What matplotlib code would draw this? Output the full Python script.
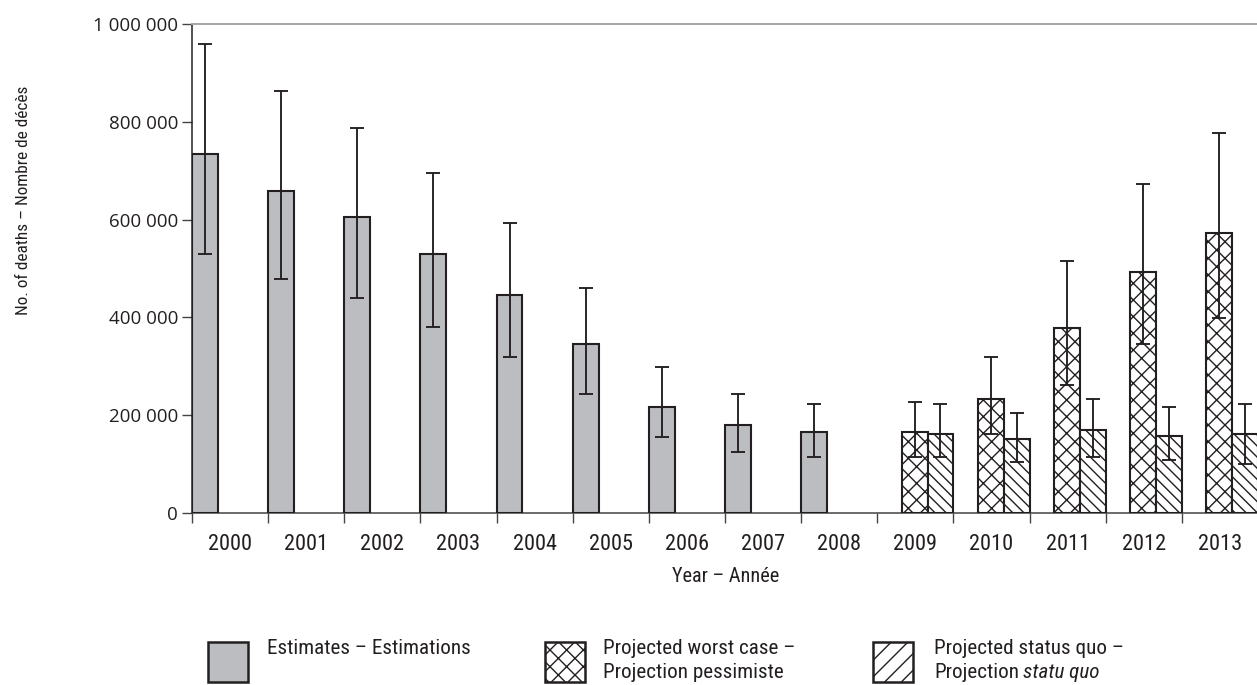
import matplotlib
matplotlib.use("Agg")
import matplotlib.pyplot as plt
import matplotlib.font_manager as fm
from matplotlib.patches import Rectangle
from matplotlib.textpath import TextToPath

# ---------------- data ----------------
years = ["2000", "2001", "2002", "2003", "2004", "2005", "2006",
         "2007", "2008", "2009", "2010", "2011", "2012", "2013"]
est_years = ["2000", "2001", "2002", "2003", "2004", "2005", "2006", "2007", "2008"]
est_vals = [734000, 658000, 605000, 529000, 446000, 345000, 216000, 180000, 166000]
est_low = [529000, 478000, 439000, 381000, 320000, 244000, 155000, 125000, 115000]
est_high = [960000, 864000, 788000, 695000, 594000, 461000, 299000, 244000, 223000]

proj_years = ["2009", "2010", "2011", "2012", "2013"]
worst_vals = [166000, 234000, 378000, 493000, 572000]
worst_low = [115000, 162000, 262000, 346000, 399000]
worst_high = [227000, 320000, 515000, 673000, 777000]
sq_vals = [162000, 151000, 169000, 158000, 162000]
sq_low = [115000, 104000, 115000, 108000, 101000]
sq_high = [223000, 204000, 234000, 216000, 223000]

yticks = [0, 200000, 400000, 600000, 800000, 1000000]
ytick_labels = ["0", "200 000", "400 000", "600 000", "800 000", "1 000 000"]

# ---------------- fonts ----------------
W, H = 1257, 685
DARK = "#231f20"
GREY = "#bcbdc0"

entries = fm.fontManager.ttflist
names = {e.name for e in entries}
narrow_props = None
for cand in ["Liberation Sans Narrow", "Roboto Condensed", "DejaVu Sans Condensed",
             "Noto Sans Condensed", "Open Sans Condensed"]:
    if cand in names:
        narrow_props = dict(family=[cand, "DejaVu Sans"])
        break
if narrow_props is None:
    for e in entries:
        if str(e.stretch) in ("condensed", "semi-condensed", "extra-condensed") and \
                e.name in ("DejaVu Sans", "Noto Sans", "Roboto", "Open Sans", "Lato", "Inter"):
            if e.style == "normal" and e.weight in (400, "normal", "regular"):
                narrow_props = dict(family=[e.name, "DejaVu Sans"], stretch=e.stretch)
                break
if narrow_props is None:
    base = "Roboto" if "Roboto" in names else "DejaVu Sans"
    narrow_props = dict(family=[base, "DejaVu Sans"])

_t2p = TextToPath()


def fit_size(text, target_px, ref=16.0, boost=1.05):
    """font size (pt) so that `text` is about target_px wide at 100 dpi"""
    fp = fm.FontProperties(size=ref, **narrow_props)
    w, _, _ = _t2p.get_text_width_height_descent(text, fp, ismath=False)
    return boost * ref * target_px / (w * 100 / 72)


tick_fs = fit_size("2000", 42)
xlab_fs = fit_size("Year – Année", 102)
ylab_fs = fit_size("No. of deaths – Nombre de décès", 204, boost=1.12)
leg_fs = fit_size("Projected worst case –", 183)

plt.rcParams["hatch.linewidth"] = 1.0
plt.rcParams["font.family"] = ["Open Sans", "DejaVu Sans"]

fig = plt.figure(figsize=(W / 100, H / 100), dpi=100)
ax = fig.add_axes([192 / W, (H - 513) / H, (1258 - 192) / W, 489 / H])

slot = {y: i for i, y in enumerate(years)}
bw = 0.34
ekw = dict(fmt="none", ecolor=DARK, elinewidth=1.35, capsize=4.7, capthick=1.35, zorder=4)

# estimates
ex = [slot[y] for y in est_years]
ax.bar(ex, est_vals, width=bw, align="edge", color=GREY, edgecolor=DARK,
       linewidth=1.5, zorder=3)
ax.errorbar([x + bw / 2 for x in ex], est_vals,
            yerr=[[v - l for v, l in zip(est_vals, est_low)],
                  [h - v for v, h in zip(est_vals, est_high)]], **ekw)

# projections
px = [slot[y] for y in proj_years]
wx = [x + 0.32 for x in px]
sx = [x + 0.32 + bw for x in px]
ax.bar(wx, worst_vals, width=bw, align="edge", color="white", edgecolor=DARK,
       hatch="xx", linewidth=1.5, zorder=3)
ax.bar(sx, sq_vals, width=bw, align="edge", color="white", edgecolor=DARK,
       hatch="\\\\\\", linewidth=1.5, zorder=3)
ax.errorbar([x + bw / 2 for x in wx], worst_vals,
            yerr=[[v - l for v, l in zip(worst_vals, worst_low)],
                  [h - v for v, h in zip(worst_vals, worst_high)]], **ekw)
ax.errorbar([x + bw / 2 for x in sx], sq_vals,
            yerr=[[v - l for v, l in zip(sq_vals, sq_low)],
                  [h - v for v, h in zip(sq_vals, sq_high)]], **ekw)

# axes
ax.set_xlim(0, len(years))
ax.set_ylim(0, 1000000)
ax.set_xticks(range(len(years) + 1))
ax.set_xticklabels([])
ax.set_xticks([i + 0.5 for i in range(len(years))], minor=True)
ax.set_xticklabels(years, minor=True, fontsize=tick_fs, color=DARK, **narrow_props)
ax.tick_params(axis="x", which="major", length=7, width=1, color="#444444", direction="out")
ax.tick_params(axis="x", which="minor", length=0, pad=15)
ax.set_yticks(yticks)
ax.set_yticklabels(ytick_labels, fontsize=13.5, color=DARK)
ax.tick_params(axis="y", length=7, width=1, color="#444444", pad=3)

ax.spines["right"].set_visible(False)
ax.spines["top"].set_color("#a6a6a6")
ax.spines["top"].set_linewidth(1.4)
ax.spines["left"].set_color(DARK)
ax.spines["left"].set_linewidth(1.1)
ax.spines["bottom"].set_color("#444444")
ax.spines["bottom"].set_linewidth(1.1)

fig.text(726 / W, 1 - 576 / H, "Year – Année", ha="center", va="center",
         fontsize=xlab_fs, color=DARK, **narrow_props)
fig.text(24 / W, 1 - 200 / H, "No. of deaths – Nombre de décès", ha="center", va="center",
         rotation=90, fontsize=ylab_fs, color=DARK, **narrow_props)


# legend
def swatch(x0, hatch, face):
    r = Rectangle((x0 / W, 1 - 682 / H), 40 / W, 40 / H, transform=fig.transFigure,
                  facecolor=face, edgecolor=DARK, hatch=hatch, linewidth=1.8)
    fig.add_artist(r)


swatch(208, None, GREY)
swatch(545, "xx", "white")
swatch(873, "//", "white")
lkw = dict(ha="left", va="center", fontsize=leg_fs, color=DARK, **narrow_props)
fig.text(267 / W, 1 - 648 / H, "Estimates – Estimations", **lkw)
fig.text(603 / W, 1 - 648 / H, "Projected worst case –", **lkw)
fig.text(603 / W, 1 - 673 / H, "Projection pessimiste", **lkw)
fig.text(934 / W, 1 - 648 / H, "Projected status quo –", **lkw)
t1 = fig.text(934 / W, 1 - 673 / H, "Projection", **lkw)
ann = matplotlib.text.Annotation("statu quo", xy=(1, 0), xycoords=t1,
                                 xytext=(3.0, 0), textcoords="offset points",
                                 ha="left", va="bottom", fontsize=leg_fs,
                                 style="italic", color=DARK, **narrow_props)
fig.add_artist(ann)

fig.savefig("out.png", dpi=100)
